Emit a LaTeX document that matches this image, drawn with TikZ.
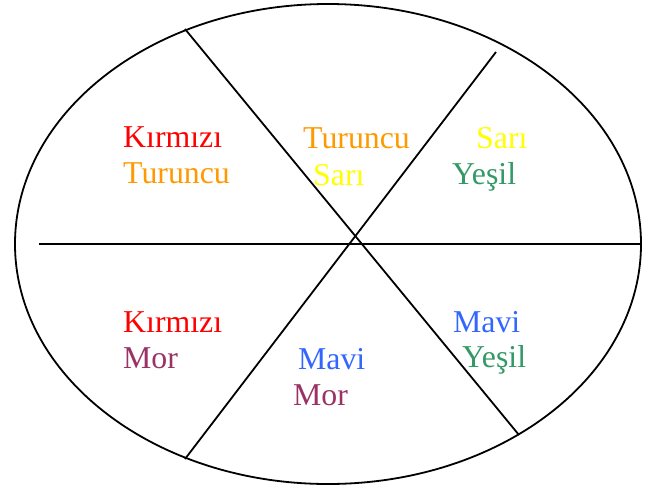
\documentclass[tikz,border=0pt]{standalone}
\usepackage{fontspec}
\setmainfont{Liberation Serif}
\definecolor{cred}{HTML}{FF0000}
\definecolor{corange}{HTML}{FF9900}
\definecolor{cyellow}{HTML}{FFFF00}
\definecolor{cgreen}{HTML}{339966}
\definecolor{cblue}{HTML}{3366FF}
\definecolor{cpurple}{HTML}{993366}
\begin{document}
\begin{tikzpicture}[x=1pt,y=-1pt,
  lbl/.style={anchor=base west,inner sep=0pt,font=\fontsize{31.8}{37}\selectfont},
  edge/.style={line width=1.8pt,black}]
\useasboundingbox (0,0) rectangle (651,488);
\draw[edge] (328,244) ellipse [x radius=313, y radius=240];
\coordinate (h1) at (39,244);
\coordinate (h2) at (640,244);
\coordinate (a1) at (185,29);
\coordinate (a2) at (519,435);
\coordinate (b1) at (496,52);
\coordinate (b2) at (185,459);
\draw[edge] (h1) -- (h2);
\draw[edge] (a1) -- (a2);
\draw[edge] (b1) -- (b2);
\node[lbl,text=cred] (t1) at (123,147) {Kırmızı};
\node[lbl,text=corange] (t2) at (123,183) {Turuncu};
\node[lbl,text=corange] (t3) at (303,148) {Turuncu};
\node[lbl,text=cyellow] (t4) at (313,185) {Sarı};
\node[lbl,text=cyellow] (t5) at (476,148) {Sarı};
\node[lbl,text=cgreen] (t6) at (452,184) {Yeşil};
\node[lbl,text=cred] (t7) at (123,332) {Kırmızı};
\node[lbl,text=cpurple] (t8) at (123,368) {Mor};
\node[lbl,text=cblue] (t9) at (298,369) {Mavi};
\node[lbl,text=cpurple] (t10) at (293,405) {Mor};
\node[lbl,text=cblue] (t11) at (453,332) {Mavi};
\node[lbl,text=cgreen] (t12) at (462,367) {Yeşil};
\end{tikzpicture}
\end{document}
